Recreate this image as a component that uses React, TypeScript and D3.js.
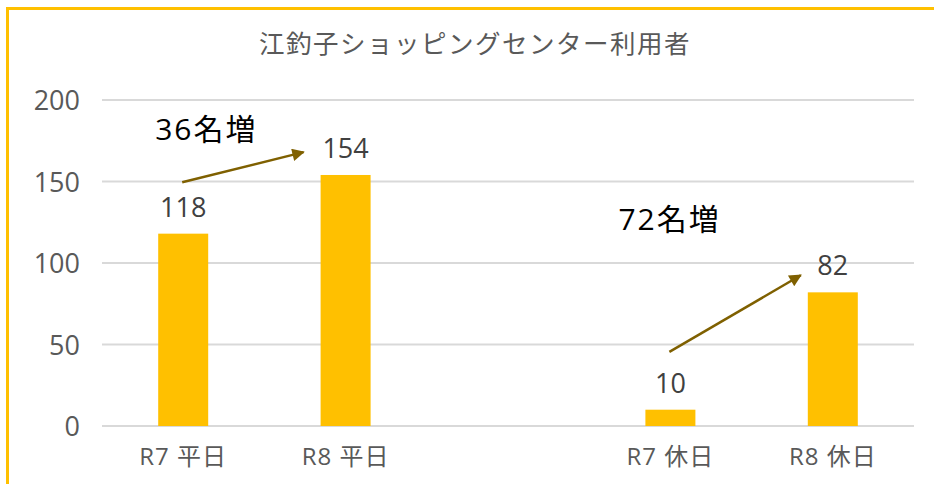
import React from "react";
import * as d3 from "d3";

const categories = ["R7 平日", "R8 平日", "", "R7 休日", "R8 休日"];
const values: (number | null)[] = [118, 154, null, 10, 82];
const yTicks = [0, 50, 100, 150, 200];
const title = "江釣子ショッピングセンター利用者";
const annotations = [
  { text: "36名増", cat: 0, dx: -28, value: 175.5 },
  { text: "72名増", cat: 3, dx: -52, value: 120 },
];
const arrows = [
  { fromCat: 0, fromDx: -1, fromV: 149.5, toCat: 1, toDx: -42, toV: 168 },
  { fromCat: 3, fromDx: -1, fromV: 45.5, toCat: 4, toDx: -32, toV: 92.5 },
];

export default function App() {
  const W = 934, H = 484;
  const left = 102, right = 914, top = 100, bottom = 426;
  const x = d3.scaleBand<string>().domain(categories.map((_, i) => String(i))).range([left, right]);
  const y = d3.scaleLinear().domain([0, 200]).range([bottom, top]);
  const barW = 50;
  const font = "'Open Sans', 'Noto Sans CJK JP', sans-serif";
  const cx = (i: number) => (x(String(i)) as number) + x.bandwidth() / 2;
  return (
    <svg width={W} height={H} style={{ position: "absolute", left: 0, top: 0, fontFamily: font }}>
      <defs>
        <marker id="ah" viewBox="0 0 10 10" refX="9" refY="5" markerWidth="6" markerHeight="5" orient="auto" markerUnits="strokeWidth">
          <path d="M0,0 L10,5 L0,10 z" fill="#7F6000" />
        </marker>
      </defs>
      <rect x={0} y={0} width={W} height={H} fill="#fff" />
      <line x1={7.5} y1={8} x2={7.5} y2={H} stroke="#FFC000" strokeWidth={3} />
      <line x1={6} y1={8.5} x2={W} y2={8.5} stroke="#FFC000" strokeWidth={3} />
      <text x={W / 2 + 8} y={53} textAnchor="middle" fontSize={25.5} letterSpacing={1.5} fill="#595959">{title}</text>
      {yTicks.map((t) => (
        <g key={t}>
          <line x1={left} x2={right} y1={y(t)} y2={y(t)} stroke="#d9d9d9" strokeWidth={2} />
          <text x={80} y={y(t) + 10} textAnchor="end" fontSize={27} fill="#595959">{t}</text>
        </g>
      ))}
      {values.map((v, i) =>
        v == null ? null : (
          <g key={i}>
            <rect x={cx(i) - barW / 2} y={y(v)} width={barW} height={bottom - y(v)} fill="#FFC000" />
            <text x={cx(i)} y={y(v) - 17} textAnchor="middle" fontSize={27} fill="#404040">{v}</text>
          </g>
        )
      )}
      {categories.map((c, i) => (
        <text key={i} x={cx(i)} y={465} textAnchor="middle" fontSize={24} letterSpacing={1} fill="#595959">{c}</text>
      ))}
      {arrows.map((a, i) => (
        <line key={i} x1={cx(a.fromCat) + a.fromDx} y1={y(a.fromV)} x2={cx(a.toCat) + a.toDx} y2={y(a.toV)}
          stroke="#7F6000" strokeWidth={2.5} markerEnd="url(#ah)" />
      ))}
      {annotations.map((a, i) => (
        <text key={i} x={cx(a.cat) + a.dx} y={y(a.value)} fontSize={30} letterSpacing={2} fill="#000">{a.text}</text>
      ))}
    </svg>
  );
}
